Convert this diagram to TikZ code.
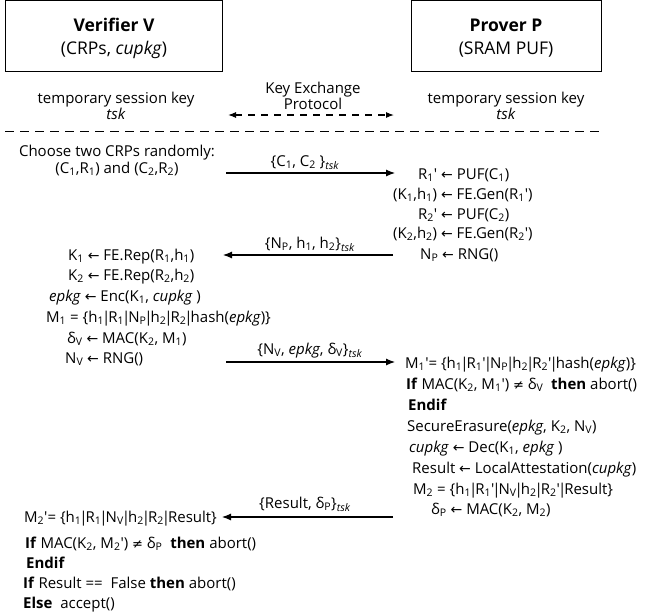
\documentclass[tikz,border=0pt]{standalone}
\usepackage{fontspec}
\setmainfont{Open Sans}
\newfontfamily\symfont{DejaVu Sans}
\usetikzlibrary{arrows.meta}
\newcommand{\sbs}[1]{\textsubscript{#1}}
\newcommand{\prm}{\textquotesingle}
\newcommand{\pp}{\kern-2pt|\kern-2pt}
\newcommand{\lar}{{\symfont\fontsize{14}{16}\selectfont ←}}
\newcommand{\neqs}{{\symfont\fontsize{13}{16}\selectfont ≠}}
\newcommand{\tsk}{\textsubscript{\textit{tsk}}}
\begin{document}
\begin{tikzpicture}[x=1pt,y=-1pt,
  hdr/.style={font=\fontsize{17.5}{21}\selectfont, inner sep=0pt, anchor=base},
  ctxt/.style={font=\fontsize{15}{18}\selectfont, inner sep=0pt, anchor=base},
  ltxt/.style={font=\fontsize{15}{18}\selectfont, inner sep=0pt, anchor=base west},
  msg/.style={line width=1.1pt, -{Latex[length=9pt,width=7pt]}},
  party/.style={draw, line width=0.8pt, minimum height=70.5pt, inner sep=0pt}]
\useasboundingbox (0,0) rectangle (648,614);

% parties
\node[party, minimum width=217pt] (vbox) at (113.5,35.75) {};
\node[party, minimum width=190pt] (pbox) at (506,35.75) {};
\node[hdr] (vt1) at (114,31) {\textbf{Verifier V}};
\node[hdr] (vt2) at (114,54) {(CRPs, \textit{cupkg})};
\node[hdr] (pt1) at (506,31) {\textbf{Prover P}};
\node[hdr] (pt2) at (506,54) {(SRAM PUF)};

% session keys
\node[ctxt] (tk1) at (116,103) {temporary session key};
\node[ctxt] (tk2) at (116,119) {\textit{tsk}};
\node[ctxt] (tk3) at (506,103) {temporary session key};
\node[ctxt] (tk4) at (506,119) {\textit{tsk}};
\node[ctxt] (ke1) at (313,93) {Key Exchange};
\node[ctxt] (ke2) at (313,109) {Protocol};
\coordinate (kel) at (228,115);
\coordinate (ker) at (394,115);
\draw[line width=1.1pt, dash pattern=on 7pt off 6pt, {Latex[length=8pt,width=6pt]}-{Latex[length=8pt,width=6pt]}] (kel) -- (ker);

% separator
\coordinate (sepl) at (5,131);
\coordinate (sepr) at (600,131);
\draw[line width=0.9pt, dash pattern=on 9pt off 6pt] (sepl) -- (sepr);

% message 1
\node[ctxt] (c1) at (117,156) {Choose two CRPs randomly:};
\node[ctxt] (c2) at (117,173) {(C\sbs{1},R\sbs{1}) and (C\sbs{2},R\sbs{2})};
\coordinate (m1s) at (226,173);
\coordinate (m1e) at (395,173);
\draw[msg] (m1s) -- (m1e);
\node[ctxt] (m1l) at (305,166) {\{C\sbs{1}, C\sbs{2} \}\tsk};

\node[ltxt] (r1) at (418,179) {R\sbs{1}\prm{} \lar{} PUF(C\sbs{1})};
\node[ltxt] (r2) at (393,199) {(K\sbs{1},h\sbs{1}) \lar{} FE.Gen(R\sbs{1}\prm)};
\node[ltxt] (r3) at (418,219) {R\sbs{2}\prm{} \lar{} PUF(C\sbs{2})};
\node[ltxt] (r4) at (393,238) {(K\sbs{2},h\sbs{2}) \lar{} FE.Gen(R\sbs{2}\prm)};
\node[ltxt] (r5) at (420,259) {N\sbs{P} \lar{} RNG()};

% message 2
\coordinate (m2s) at (393,255);
\coordinate (m2e) at (223,255);
\draw[msg] (m2s) -- (m2e);
\node[ctxt] (m2l) at (310,248) {\{N\sbs{P}, h\sbs{1}, h\sbs{2}\}\tsk};

\node[ltxt] (l1) at (68,260) {K\sbs{1} \lar{} FE.Rep(R\sbs{1},h\sbs{1})};
\node[ltxt] (l2) at (68,280) {K\sbs{2} \lar{} FE.Rep(R\sbs{2},h\sbs{2})};
\node[ltxt] (l3) at (49,301) {\textit{epkg} \lar{} Enc(K\sbs{1}, \textit{cupkg} )};
\node[ltxt] (l4) at (46,322) {M\sbs{1} = \{h\sbs{1}\pp R\sbs{1}\pp N\sbs{P}\pp h\sbs{2}\pp R\sbs{2}\pp hash(\textit{epkg})\}};
\node[ltxt] (l5) at (67,343) {δ\sbs{V} \lar{} MAC(K\sbs{2}, M\sbs{1})};
\node[ltxt] (l6) at (65,363) {N\sbs{V} \lar{} RNG()};

% message 3
\coordinate (m3s) at (226,362);
\coordinate (m3e) at (395,362);
\draw[msg] (m3s) -- (m3e);
\node[ctxt] (m3l) at (310,354) {\{N\sbs{V}, \textit{epkg}, δ\sbs{V}\}\tsk};

\node[ltxt] (p1) at (405,368) {M\sbs{1}\prm= \{h\sbs{1}\pp R\sbs{1}\prm\pp N\sbs{P}\pp h\sbs{2}\pp R\sbs{2}\prm\pp hash(\textit{epkg})\}};
\node[ltxt] (p2) at (406,389) {\textbf{If} MAC(K\sbs{2}, M\sbs{1}\prm) \neqs{} δ\sbs{V}\ \ \textbf{then} abort()};
\node[ltxt] (p3) at (408,410) {\textbf{Endif}};
\node[ltxt] (p4) at (407,431) {SecureErasure(\textit{epkg}, K\sbs{2}, N\sbs{V})};
\node[ltxt] (p5) at (409,452) {\textit{cupkg} \lar{} Dec(K\sbs{1}, \textit{epkg} )};
\node[ltxt] (p6) at (412,473) {Result \lar{} LocalAttestation(\textit{cupkg})};
\node[ltxt] (p7) at (413,494) {M\sbs{2} = \{h\sbs{1}\pp R\sbs{1}\prm\pp N\sbs{V}\pp h\sbs{2}\pp R\sbs{2}\prm\pp Result\}};
\node[ltxt] (p8) at (431,514) {δ\sbs{P} \lar{} MAC(K\sbs{2}, M\sbs{2})};

% message 4
\coordinate (m4s) at (393,517);
\coordinate (m4e) at (222,517);
\draw[msg] (m4s) -- (m4e);
\node[ctxt] (m4l) at (305,508) {\{Result, δ\sbs{P}\}\tsk};

\node[ltxt] (v1) at (24,522) {M\sbs{2}\prm= \{h\sbs{1}\pp R\sbs{1}\pp N\sbs{V}\pp h\sbs{2}\pp R\sbs{2}\pp Result\}};
\node[ltxt] (v2) at (25,548) {\textbf{If} MAC(K\sbs{2}, M\sbs{2}\prm) \neqs{} δ\sbs{P}\ \ \textbf{then} abort()};
\node[ltxt] (v3) at (26,568) {\textbf{Endif}};
\node[ltxt] (v4) at (23,588) {\textbf{If} Result ==\ \ False \textbf{then} abort()};
\node[ltxt] (v5) at (23,608) {\textbf{Else}\ \ accept()};
\end{tikzpicture}
\end{document}
